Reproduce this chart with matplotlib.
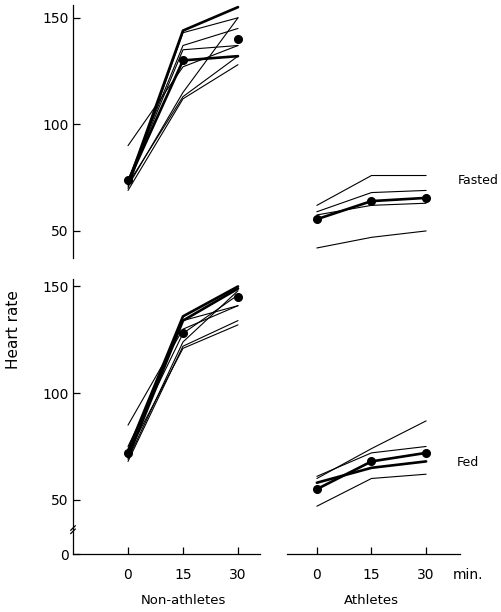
import matplotlib
matplotlib.use("Agg")
import matplotlib.pyplot as plt

plt.rcParams['font.family'] = ['DejaVu Sans']

times = [0, 15, 30]
xtick_labels = ['0', '15', '30']
ytick_vals = [50, 100, 150]

# Non-athletes, fasted (individual subjects)
na_fasted = [
    [72, 144, 155],
    [70, 143, 150],
    [74, 137, 145],
    [73, 135, 137],
    [73, 130, 132],
    [90, 127, 137],
    [71, 115, 150],
    [69, 112, 128],
    [72, 113, 132],
]
na_fasted_thick = [0, 4]
na_fasted_mean = [74, 130, 140]

# Non-athletes, fed
na_fed = [
    [73, 136, 150],
    [70, 134, 149],
    [85, 130, 141],
    [71, 134, 141],
    [69, 124, 148],
    [68, 122, 134],
    [72, 121, 132],
    [75, 128, 146],
]
na_fed_thick = [0, 1]
na_fed_mean = [72, 128, 145]

# Athletes, fasted
at_fasted = [
    [62, 76, 76],
    [59, 68, 69],
    [57.5, 62, 63],
    [42, 47, 50],
]
at_fasted_mean = [55.5, 64, 65.5]

# Athletes, fed
at_fed = [
    [60, 74, 87],
    [61, 72, 75],
    [58, 65, 68],
    [47, 60, 62],
]
at_fed_thick = [2]
at_fed_mean = [55, 68, 72]

W, H = 501, 612
fig = plt.figure(figsize=(W / 100, H / 100), dpi=100)

def rect(x0, y0, x1, y1):
    return [x0 / W, 1 - y1 / H, (x1 - x0) / W, (y1 - y0) / H]

ax_tl = fig.add_axes(rect(73, 5, 260, 258))
ax_tr = fig.add_axes(rect(287, 5, 460, 258))
ax_bl = fig.add_axes(rect(73, 279, 260, 554))
ax_br = fig.add_axes(rect(287, 279, 460, 554))

left_xlim = (-15, 36)
right_xlim = (-8.2, 39.3)
top_ylim = (37.3, 156)
bot_ylim = (24.6, 153.5)

def draw(ax, data, thick, mean, mean_line):
    for i, s in enumerate(data):
        lw = 1.9 if i in thick else 0.8
        ax.plot(times, s, color='black', lw=lw, solid_capstyle='round')
    ax.plot(times, mean, color='black', lw=1.9 if mean_line else 0,
            marker='o', markersize=5.5, linestyle='-' if mean_line else 'none')

draw(ax_tl, na_fasted, na_fasted_thick, na_fasted_mean, False)
draw(ax_bl, na_fed, na_fed_thick, na_fed_mean, False)
draw(ax_tr, at_fasted, [], at_fasted_mean, True)
draw(ax_br, at_fed, at_fed_thick, at_fed_mean, True)

for ax in (ax_tl, ax_bl):
    ax.set_xlim(*left_xlim)
for ax in (ax_tr, ax_br):
    ax.set_xlim(*right_xlim)
ax_tl.set_ylim(*top_ylim)
ax_tr.set_ylim(*top_ylim)
ax_bl.set_ylim(*bot_ylim)
ax_br.set_ylim(*bot_ylim)

for ax in (ax_tl, ax_tr, ax_bl, ax_br):
    for sp in ax.spines.values():
        sp.set_visible(False)
    ax.set_facecolor('none')
    ax.tick_params(labelsize=10, direction='in', length=5, width=0.9, pad=3)

# y axes
for ax, ticks, labels in ((ax_tl, ytick_vals, [str(v) for v in ytick_vals]),
                          (ax_bl, ytick_vals + [bot_ylim[0]], [str(v) for v in ytick_vals] + ['0'])):
    ax.spines['left'].set_visible(True)
    ax.spines['left'].set_linewidth(0.9)
    ax.set_yticks(ticks)
    ax.set_yticklabels(labels)
for ax in (ax_tr, ax_br):
    ax.set_yticks([])
ax_tl.set_xticks([])
ax_tr.set_xticks([])

# bottom x axes
for ax in (ax_bl, ax_br):
    ax.spines['bottom'].set_visible(True)
    ax.spines['bottom'].set_linewidth(0.9)
    ax.set_xticks(times)
    ax.set_xticklabels(xtick_labels)
    ax.tick_params(axis='x', pad=10)

# axis break marks on lower y axis
yb = (36 - bot_ylim[0]) / (bot_ylim[1] - bot_ylim[0])
for dy in (-0.006, 0.006):
    ax_bl.plot([-0.012, 0.012], [yb + dy - 0.008, yb + dy + 0.008],
               transform=ax_bl.transAxes, color='black', lw=0.9, clip_on=False)

fig.text(14 / W, 1 - 330 / H, 'Heart rate', rotation=90, ha='center', va='center', fontsize=11)
fig.text(183 / W, 1 - 601 / H, 'Non-athletes', ha='center', va='center', fontsize=9.5)
fig.text(371 / W, 1 - 601 / H, 'Athletes', ha='center', va='center', fontsize=9.5)
fig.text(468 / W, 1 - 575 / H, 'min.', ha='center', va='center', fontsize=10)
fig.text(458 / W, 1 - 180 / H, 'Fasted', ha='left', va='center', fontsize=9)
fig.text(457 / W, 1 - 462 / H, 'Fed', ha='left', va='center', fontsize=9)

fig.savefig('out.png', dpi=100, facecolor='white')
